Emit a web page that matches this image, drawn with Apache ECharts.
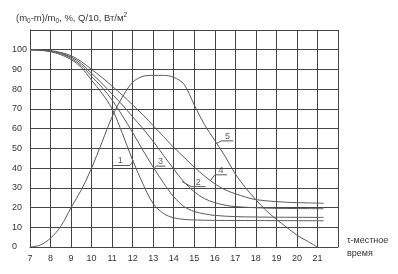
<!DOCTYPE html>
<html>
<head>
<meta charset="utf-8">
<script src="https://cdn.jsdelivr.net/npm/echarts@6/dist/echarts.min.js"></script>
<style>
html,body{margin:0;padding:0;background:#fff;}
#chart{width:398px;height:274px;}
</style>
</head>
<body>
<div id="chart"></div>
<script>
// curves: [hour, value]
var curve1 = [[7,100],[7.5,99.8],[8,99],[8.5,97.5],[9,95],[9.5,91],[10,84.5],[10.5,78],[11,70],[11.5,57.5],[12,44],[12.5,32],[13,22],[13.5,17],[14,14.8],[14.5,14],[15,13.7],[16,13.5],[18,13.4],[21.3,13.3]];
var curve2 = [[7,100],[8,99.4],[8.5,98.3],[9,96.3],[9.5,93],[10,88],[10.5,83],[11,77.5],[11.5,72],[12,66],[12.5,60],[13,53.5],[13.5,46.5],[14,39.5],[14.5,33],[15,28],[15.5,24.5],[16,22.5],[16.5,21.2],[17,20.5],[18,19.9],[19,19.6],[20,19.5],[21.3,19.4]];
var curve3 = [[7,100],[8,99.2],[8.5,98],[9,95.7],[9.5,92],[10,86.5],[10.5,81],[11,74.5],[11.5,66.5],[12,58],[12.5,49],[13,40.5],[13.5,32.5],[14,25.5],[14.5,20.5],[15,18],[15.5,16.8],[16,16],[17,15.4],[18,15.2],[19,15.1],[21.3,15]];
var curve4 = [[7,100],[8,99.5],[8.5,98.6],[9,97],[9.5,94],[10,90],[10.5,86],[11,81.5],[11.5,77],[12,72],[12.5,67],[13,61.5],[13.5,56],[14,50.5],[14.5,45.5],[15,40.5],[15.5,36],[16,32],[16.5,29],[17,27],[17.5,25.3],[18,24],[19,23],[20,22.5],[21.3,22.2]];
var curve5 = [[7,0],[7.5,1],[8,4.5],[8.5,10.5],[9,20],[9.5,29],[10,40],[10.5,53],[11,66],[11.5,76],[12,83.5],[12.5,86.5],[13,87],[13.5,87],[14,86],[14.5,82.5],[15,72],[15.5,62],[16,54],[16.5,46],[17,37],[17.5,30],[18,24],[18.5,18.5],[19,14],[19.5,10],[20,6],[20.5,3],[21,0]];

// leader lines and their numbers
var leaderNames = ['1','2','3','4','5'];
var leaderLines = [
  [[12.03,44],[11.87,41.3],[11.0,41.3]],
  [[14.4,33.2],[14.85,30.6],[15.55,30.6]],
  [[13.0,39.5],[13.15,41],[13.6,41]],
  [[15.77,33.5],[16.0,36.6],[16.6,36.6]],
  [[16.09,52.5],[16.33,53.8],[16.9,53.8]]
];
var leaderText = [[11.4,43.6],[15.2,32.9],[13.35,43.4],[16.3,38.9],[16.62,56.2]];

var font = 'Liberation Sans, Arial, sans-serif';
var myChart = echarts.init(document.getElementById('chart'));

var series = [];
[curve1, curve2, curve3, curve4, curve5].forEach(function(c){
  series.push({
    type:'line', data:c, smooth:0.35, symbol:'none', silent:true,
    lineStyle:{color:'#5a5a5a', width:1}
  });
});
leaderLines.forEach(function(l){
  series.push({
    type:'line', data:l, symbol:'none', silent:true,
    lineStyle:{color:'#5a5a5a', width:1}
  });
});
series.push({
  type:'scatter', symbolSize:0, silent:true,
  data:leaderText.map(function(p,i){ return {value:p, name:leaderNames[i]}; }),
  label:{show:true, position:'inside', formatter:'{b}', color:'#333', fontSize:9, fontFamily:font}
});

var option = {
  animation:false,
  title:{
    text:'(m{sub|0}-m)/m{sub|0}, %, Q/10, Вт/м{sup|2}',
    left:11, top:7,
    textStyle:{
      color:'#333', fontSize:9.5, fontWeight:'normal', fontFamily:font,
      rich:{
        sub:{fontSize:6.5, verticalAlign:'bottom', padding:[5,0,0,0], color:'#333', fontFamily:font},
        sup:{fontSize:6.5, verticalAlign:'top', padding:[0,0,6,0], color:'#333', fontFamily:font}
      }
    }
  },
  grid:{left:30, top:30, width:308, height:217},
  xAxis:{
    type:'value', min:7, max:22, interval:1,
    name:'τ-местное\nвремя', nameLocation:'end', nameGap:9,
    nameTextStyle:{color:'#333', fontSize:9, fontFamily:font, align:'left', lineHeight:13},
    axisLine:{show:true, lineStyle:{color:'#444', width:1}},
    axisTick:{show:false},
    axisLabel:{color:'#333', fontSize:9, fontFamily:font, margin:7,
      formatter:function(v){ return v >= 22 ? '' : v; }},
    splitLine:{show:true, lineStyle:{color:'#444', width:1}}
  },
  yAxis:{
    type:'value', min:0, max:110, interval:10,
    axisLine:{show:true, lineStyle:{color:'#444', width:1}},
    axisTick:{show:false},
    axisLabel:{color:'#333', fontSize:9, fontFamily:font, margin:18, align:'left',
      formatter:function(v){ return v >= 110 ? '' : v; }},
    splitLine:{show:true, lineStyle:{color:'#444', width:1}}
  },
  series:series
};
myChart.setOption(option);
</script>
</body>
</html>
